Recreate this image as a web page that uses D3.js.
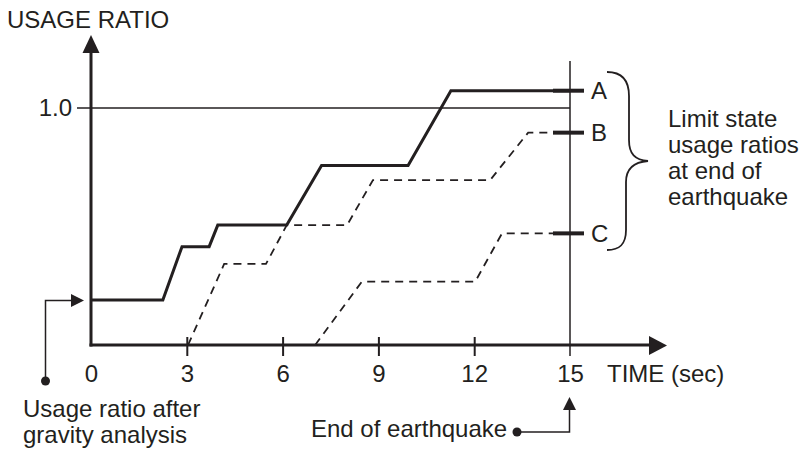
<!DOCTYPE html>
<html>
  <head>
    <meta charset="UTF-8">
    <title>Usage ratio vs time</title>
    <style>
      body { margin: 0; background: #fff; }
      svg { display: block; font-family: "Liberation Sans", Arial, sans-serif; }
      text { fill: #231f20; font-size: 24px; }
    </style>
  </head>
  <body>
    <svg></svg>
    <script src="https://d3js.org/d3.v7.min.js"></script>
    <script>

/* DATA */
var timeA  = [0, 2.25, 2.85, 3.7, 3.97, 6.13, 7.22, 9.93, 11.27, 15];
var ratioA = [0.19, 0.19, 0.415, 0.415, 0.506, 0.506, 0.757, 0.757, 1.073, 1.073];

var timeB  = [3.04, 4.17, 5.48, 6.13, 8.02, 8.83, 12.5, 13.69, 15];
var ratioB = [0, 0.342, 0.342, 0.506, 0.506, 0.696, 0.696, 0.896, 0.896];

var timeC  = [7.02, 8.48, 12.03, 12.87, 15];
var ratioC = [0, 0.267, 0.267, 0.471, 0.471];

var tickTimes = [0, 3, 6, 9, 12, 15];
var endLabels = ["A", "B", "C"];
var noteLines = ["Limit state", "usage ratios", "at end of", "earthquake"];
var gravityLines = ["Usage ratio after", "gravity analysis"];

var ink = "#231f20";
var width = 807, height = 451;

var svg = d3.select("svg").attr("width", width).attr("height", height);

var x = d3.scaleLinear().domain([0, 15]).range([91, 570]);
var y = d3.scaleLinear().domain([0, 1]).range([345, 108]);

function zip(ts, rs) { return ts.map(function(t, i) { return [t, rs[i]]; }); }
var line = d3.line().x(function(d) { return x(d[0]); }).y(function(d) { return y(d[1]); });

// 1.0 reference line
svg.append("line")
  .attr("x1", x(0) - 14).attr("x2", x(15))
  .attr("y1", y(1)).attr("y2", y(1))
  .attr("stroke", ink).attr("stroke-width", 1.5);
svg.append("text").attr("x", x(0) - 19).attr("y", y(1) + 8)
  .attr("text-anchor", "end").text("1.0");

// end of earthquake vertical
svg.append("line")
  .attr("x1", x(15)).attr("x2", x(15))
  .attr("y1", 61).attr("y2", y(0) + 11)
  .attr("stroke", ink).attr("stroke-width", 1.5);

// series
svg.append("path").datum(zip(timeC, ratioC)).attr("d", line)
  .attr("fill", "none").attr("stroke", ink).attr("stroke-width", 1.8)
  .attr("stroke-dasharray", "8,6");
svg.append("path").datum(zip(timeB, ratioB)).attr("d", line)
  .attr("fill", "none").attr("stroke", ink).attr("stroke-width", 1.8)
  .attr("stroke-dasharray", "8,6");
svg.append("path").datum(zip(timeA, ratioA)).attr("d", line)
  .attr("fill", "none").attr("stroke", ink).attr("stroke-width", 3);

// end markers A, B, C
var ends = [ratioA[ratioA.length - 1], ratioB[ratioB.length - 1], ratioC[ratioC.length - 1]];
ends.forEach(function(r, i) {
  svg.append("line")
    .attr("x1", x(15) - 17).attr("x2", x(15) + 14)
    .attr("y1", y(r)).attr("y2", y(r))
    .attr("stroke", ink).attr("stroke-width", 4);
  svg.append("text").attr("x", x(15) + 21).attr("y", y(r) + 8.5).text(endLabels[i]);
});

// x axis
var xAxis = svg.append("g")
  .attr("transform", "translate(0," + y(0) + ")")
  .call(d3.axisBottom(x).tickValues(tickTimes).tickSize(0).tickFormat(d3.format("d")));
xAxis.select(".domain").remove();
xAxis.selectAll("text").attr("y", 37).attr("dy", null)
  .attr("font-size", 24).attr("font-family", "Liberation Sans, Arial, sans-serif")
  .style("fill", ink);
xAxis.selectAll(".tick").filter(function(d) { return d > 0 && d < 15; })
  .select("line").attr("y1", -8).attr("y2", 11)
  .attr("stroke", ink).attr("stroke-width", 2);

svg.append("line")
  .attr("x1", x(0) - 1.5).attr("x2", 652)
  .attr("y1", y(0)).attr("y2", y(0))
  .attr("stroke", ink).attr("stroke-width", 3);
svg.append("path").attr("d", "M649,336 L667,345.5 L649,355 Z").attr("fill", ink);
svg.append("text").attr("x", 607).attr("y", 382).text("TIME (sec)");

// y axis
svg.append("line")
  .attr("x1", x(0)).attr("x2", x(0))
  .attr("y1", y(0) + 1.5).attr("y2", 50)
  .attr("stroke", ink).attr("stroke-width", 3);
svg.append("path").attr("d", "M82.5,53 L91,35 L99.5,53 Z").attr("fill", ink);
svg.append("text").attr("x", 7).attr("y", 28).text("USAGE RATIO");

// brace + note
svg.append("path")
  .attr("d", "M607,72 C622,72 629,80 629,96 L629,140 C629,154 635,160 648,161 " +
             "C635,162 626,168 626,182 L626,230 C626,244 620,250 607,250")
  .attr("fill", "none").attr("stroke", ink).attr("stroke-width", 1.8);
noteLines.forEach(function(s, i) {
  svg.append("text").attr("x", 668).attr("y", 127 + i * 26).text(s);
});

// gravity analysis callout
svg.append("path").attr("d", "M45.5,381 L45.5,300.5 L73,300.5")
  .attr("fill", "none").attr("stroke", ink).attr("stroke-width", 1.5);
svg.append("path").attr("d", "M71,294 L84,300.5 L71,307 Z").attr("fill", ink);
svg.append("circle").attr("cx", 45.5).attr("cy", 381).attr("r", 4.5).attr("fill", ink);
gravityLines.forEach(function(s, i) {
  svg.append("text").attr("x", 23).attr("y", 417 + i * 26).text(s);
});

// end of earthquake callout
svg.append("path").attr("d", "M517,432 L569.5,432 L569.5,408")
  .attr("fill", "none").attr("stroke", ink).attr("stroke-width", 1.5);
svg.append("path").attr("d", "M563,410 L569.5,397 L576,410 Z").attr("fill", ink);
svg.append("circle").attr("cx", 517).attr("cy", 432).attr("r", 4.5).attr("fill", ink);
svg.append("text").attr("x", 311).attr("y", 437).text("End of earthquake");

    </script>
  </body>
</html>
